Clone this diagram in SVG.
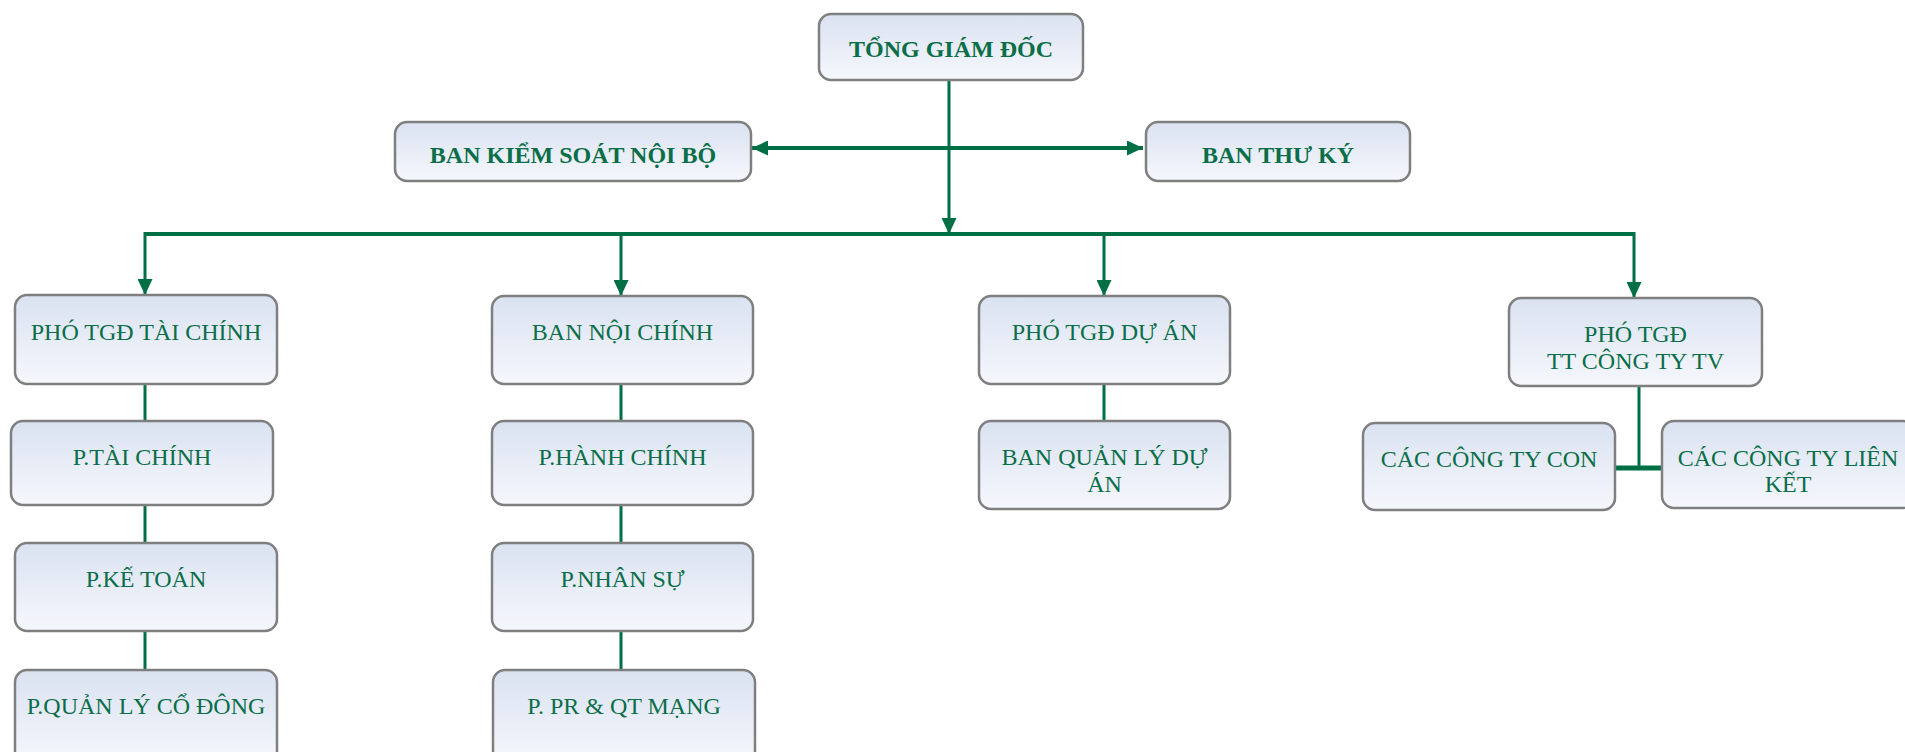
<svg xmlns="http://www.w3.org/2000/svg" width="1905" height="752" viewBox="0 0 1905 752">
<defs>
<linearGradient id="nodeFill" x1="0" y1="0" x2="0" y2="1">
<stop offset="0" stop-color="#DAE2F1"/>
<stop offset="1" stop-color="#F5F7FC"/>
</linearGradient>
<marker id="arrow" markerUnits="userSpaceOnUse" markerWidth="16" markerHeight="15" refX="16" refY="7.5" orient="auto">
<path d="M0,0 L16,7.5 L0,15 z" fill="#006F46"/>
</marker>
<style>
.box{fill:url(#nodeFill);stroke:#7F7F7F;stroke-width:2.5}
.t{font-family:"Liberation Serif","Times New Roman",serif;font-size:24px;fill:#0A6E48;text-anchor:middle}
.b{font-weight:bold}
.ln{stroke:#006F46;stroke-width:3;fill:none}
.ar{marker-end:url(#arrow)}
</style>
</defs>
<rect width="1905" height="752" fill="#FFFFFF"/>
<g id="connectors">
<line class="ln ar" x1="949" y1="80" x2="949" y2="234"/>
<line class="ln ar" x1="949" y1="148" x2="752" y2="148" style="stroke-width:4"/>
<line class="ln ar" x1="949" y1="148" x2="1143" y2="148" style="stroke-width:4"/>
<path class="ln" d="M145,234 H1634" style="stroke-width:4"/>
<line class="ln ar" x1="145" y1="232" x2="145" y2="295"/>
<line class="ln ar" x1="621" y1="232" x2="621" y2="296"/>
<line class="ln ar" x1="1104" y1="234" x2="1104" y2="296"/>
<line class="ln ar" x1="1634" y1="232" x2="1634" y2="298"/>
<line class="ln" x1="145" y1="384" x2="145" y2="421"/>
<line class="ln" x1="145" y1="505" x2="145" y2="543"/>
<line class="ln" x1="145" y1="631" x2="145" y2="670"/>
<line class="ln" x1="621" y1="384" x2="621" y2="421"/>
<line class="ln" x1="621" y1="505" x2="621" y2="543"/>
<line class="ln" x1="621" y1="631" x2="621" y2="670"/>
<line class="ln" x1="1104" y1="384" x2="1104" y2="421"/>
<line class="ln" x1="1639" y1="386" x2="1639" y2="468"/>
<line class="ln" x1="1615" y1="468" x2="1662" y2="468" style="stroke-width:5"/>
</g>
<g id="tong-giam-doc">
<rect class="box" x="819" y="14" width="264" height="66" rx="12"/>
<text class="t b" x="951" y="57">TỔNG GIÁM ĐỐC</text>
</g>
<g id="ban-kiem-soat">
<rect class="box" x="395" y="122" width="356" height="59" rx="12"/>
<text class="t b" x="573" y="163">BAN KIỂM SOÁT NỘI BỘ</text>
</g>
<g id="ban-thu-ky">
<rect class="box" x="1146" y="122" width="264" height="59" rx="12"/>
<text class="t b" x="1278" y="163">BAN THƯ KÝ</text>
</g>
<g id="pho-tgd-tai-chinh">
<rect class="box" x="15" y="295" width="262" height="89" rx="12"/>
<text class="t" x="146" y="340">PHÓ TGĐ TÀI CHÍNH</text>
</g>
<g id="ban-noi-chinh">
<rect class="box" x="492" y="296" width="261" height="88" rx="12"/>
<text class="t" x="622.5" y="340">BAN NỘI CHÍNH</text>
</g>
<g id="pho-tgd-du-an">
<rect class="box" x="979" y="296" width="251" height="88" rx="12"/>
<text class="t" x="1104.5" y="340">PHÓ TGĐ DỰ ÁN</text>
</g>
<g id="pho-tgd-tt">
<rect class="box" x="1509" y="298" width="253" height="88" rx="12"/>
<text class="t" x="1635.5" y="342">PHÓ TGĐ</text>
<text class="t" x="1635.5" y="369">TT CÔNG TY TV</text>
</g>
<g id="p-tai-chinh">
<rect class="box" x="11" y="421" width="262" height="84" rx="12"/>
<text class="t" x="142" y="465">P.TÀI CHÍNH</text>
</g>
<g id="p-ke-toan">
<rect class="box" x="15" y="543" width="262" height="88" rx="12"/>
<text class="t" x="146" y="587">P.KẾ TOÁN</text>
</g>
<g id="p-quan-ly-co-dong">
<rect class="box" x="15" y="670" width="262" height="95" rx="12"/>
<text class="t" x="146" y="714">P.QUẢN LÝ CỔ ĐÔNG</text>
</g>
<g id="p-hanh-chinh">
<rect class="box" x="492" y="421" width="261" height="84" rx="12"/>
<text class="t" x="622.5" y="465">P.HÀNH CHÍNH</text>
</g>
<g id="p-nhan-su">
<rect class="box" x="492" y="543" width="261" height="88" rx="12"/>
<text class="t" x="622.5" y="587">P.NHÂN SỰ</text>
</g>
<g id="p-pr-qt-mang">
<rect class="box" x="493" y="670" width="262" height="95" rx="12"/>
<text class="t" x="624" y="714">P. PR &amp; QT MẠNG</text>
</g>
<g id="ban-quan-ly-du-an">
<rect class="box" x="979" y="421" width="251" height="88" rx="12"/>
<text class="t" x="1104.5" y="465">BAN QUẢN LÝ DỰ</text>
<text class="t" x="1104.5" y="492">ÁN</text>
</g>
<g id="cac-cong-ty-con">
<rect class="box" x="1363" y="423" width="252" height="87" rx="12"/>
<text class="t" x="1489" y="467">CÁC CÔNG TY CON</text>
</g>
<g id="cac-cong-ty-lien-ket">
<rect class="box" x="1662" y="421" width="253" height="87" rx="12"/>
<text class="t" x="1788" y="466">CÁC CÔNG TY LIÊN</text>
<text class="t" x="1788" y="492">KẾT</text>
</g>
</svg>
